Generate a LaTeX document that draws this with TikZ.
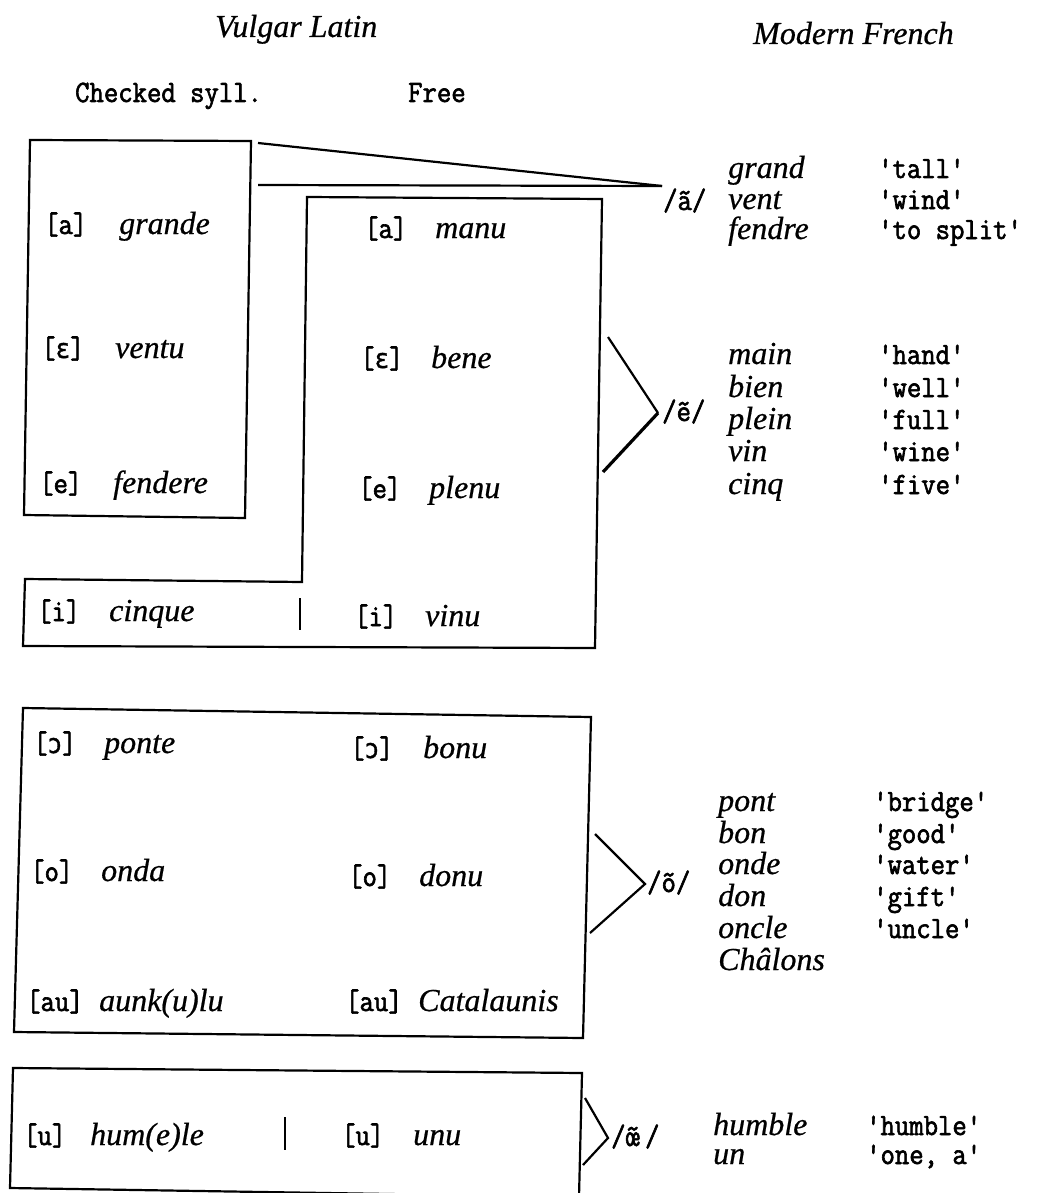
\documentclass[tikz,border=0pt]{standalone}
\usepackage{fontspec}
% typewriter face for phonetic brackets and glosses
\newfontfamily\twfont{Latin Modern Mono}[FakeBold=2, FakeStretch=0.9]
% italic face for the cited word forms and headings
\newfontfamily\scfont{Liberation Serif}[FakeBold=0.6]
% fallback for IPA letters missing from the typewriter face
\newfontfamily\ipafont{DejaVu Sans Mono}[FakeBold=1.2, FakeStretch=0.9]
\newcommand{\opene}{{\ipafont\fontsize{27}{30}\selectfont ɛ}}
\newcommand{\openo}{{\ipafont\fontsize{27}{30}\selectfont ɔ}}
\newcommand{\nasal}[1]{{\accent"02DC #1}}

\tikzset{
  tw/.style={font=\twfont\fontsize{31}{34}\selectfont, anchor=base west, inner sep=0pt},
  sc/.style={font=\scfont\itshape\fontsize{32}{36}\selectfont, anchor=base west, inner sep=0pt},
  frame/.style={line width=2.2pt, line join=miter},
  wedge/.style={line width=2.2pt},
  bar/.style={line width=2pt},
}

\begin{document}
\begin{tikzpicture}[x=1pt, y=-1pt]
\useasboundingbox[fill=white] (0,0) rectangle (1041,1193);

% ---- headings
\node[sc] (vl)  at (215,37)  {Vulgar Latin};
\node[sc] (mf)  at (753,44)  {Modern French};
\node[tw] (chk) at (75,102)  {Checked syll.};
\node[tw] (fre) at (408,102) {Free};

% ---- front vowels: checked syllables
\draw[frame] (30,140) -- (251,141) -- (245,518) -- (24,515) -- cycle;
\node[tw] (ca)  at (44,234)  {[a]};
\node[sc] (cax) at (119,234) {grande};
\node[tw] (ce)  at (41,358)  {[\opene]};
\node[sc] (cex) at (115,358) {ventu};
\node[tw] (cc)  at (39,493)  {[e]};
\node[sc] (ccx) at (113,493) {fendere};
\node[tw] (ci)  at (37,621)  {[i]};
\node[sc] (cix) at (109,621) {cinque};

% ---- front vowels: free syllables, with the [i] row underneath
\draw[frame] (307,197) -- (602,199) -- (595,648) -- (23,646) -- (25,579) -- (302,582) -- cycle;
\draw[bar] (300,598) -- (300,630);
\node[tw] (fa)  at (364,238) {[a]};
\node[sc] (fax) at (435,238) {manu};
\node[tw] (fe)  at (360,368) {[\opene]};
\node[sc] (fex) at (431,368) {bene};
\node[tw] (fc)  at (358,498) {[e]};
\node[sc] (fcx) at (429,498) {plenu};
\node[tw] (fi)  at (354,626) {[i]};
\node[sc] (fix) at (425,626) {vinu};

% ---- merger into /ã/
\coordinate (aTop) at (258,143);
\coordinate (aMid) at (258,185);
\coordinate (aPt)  at (662,186);
\draw[wedge] (aTop) -- (aPt);
\draw[wedge] (aMid) -- (aPt);
\node[tw] (aN) at (663,210) {/ã/};
\node[sc] (r1) at (728,178) {grand};
\node[sc] (r2) at (728,209) {vent};
\node[sc] (r3) at (728,239) {fendre};
\node[tw] (g1) at (878,178) {'tall'};
\node[tw] (g2) at (878,209) {'wind'};
\node[tw] (g3) at (878,239) {'to split'};

% ---- merger into /ẽ/
\coordinate (eTop) at (608,337);
\coordinate (ePt)  at (658,413);
\coordinate (eBot) at (603,472);
\draw[wedge] (eTop) -- (ePt);
\draw[line width=3.2pt] (ePt) -- (eBot);
\node[tw] (eN) at (662,421) {/\nasal{e}/};
\node[sc] (r4) at (728,364) {main};
\node[sc] (r5) at (728,397) {bien};
\node[sc] (r6) at (728,429) {plein};
\node[sc] (r7) at (728,461) {vin};
\node[sc] (r8) at (728,494) {cinq};
\node[tw] (g4) at (878,364) {'hand'};
\node[tw] (g5) at (878,397) {'well'};
\node[tw] (g6) at (878,429) {'full'};
\node[tw] (g7) at (878,461) {'wine'};
\node[tw] (g8) at (878,494) {'five'};

% ---- back vowels
\draw[frame] (23,708) -- (591,717) -- (583,1038) -- (14,1032) -- cycle;
\node[tw] (oa)  at (33,753)   {[\openo]};
\node[sc] (oax) at (104,753)  {ponte};
\node[tw] (ob)  at (30,881)   {[o]};
\node[sc] (obx) at (101,881)  {onda};
\node[tw] (oc)  at (26,1011)  {[au]};
\node[sc] (ocx) at (99,1011)  {aunk(u)lu};
\node[tw] (pa)  at (350,758)  {[\openo]};
\node[sc] (pax) at (423,758)  {bonu};
\node[tw] (pb)  at (348,886)  {[o]};
\node[sc] (pbx) at (419,886)  {donu};
\node[tw] (pc)  at (345,1011) {[au]};
\node[sc] (pcx) at (418,1011) {Catalaunis};

% ---- merger into /õ/
\coordinate (oTop) at (595,834);
\coordinate (oPt)  at (645,884);
\coordinate (oBot) at (590,933);
\draw[wedge] (oTop) -- (oPt) -- (oBot);
\node[tw] (oN) at (647,892) {/õ/};
\node[sc] (s1) at (718,811) {pont};
\node[sc] (s2) at (718,843) {bon};
\node[sc] (s3) at (718,874) {onde};
\node[sc] (s4) at (718,906) {don};
\node[sc] (s5) at (718,938) {oncle};
\node[sc] (s6) at (718,970) {Châlons};
\node[tw] (h1) at (873,811) {'bridge'};
\node[tw] (h2) at (873,843) {'good'};
\node[tw] (h3) at (873,874) {'water'};
\node[tw] (h4) at (873,906) {'gift'};
\node[tw] (h5) at (873,938) {'uncle'};

% ---- high back rounded vowel
\draw[frame] (13,1068) -- (582,1073) -- (579,1197) -- (10,1188) -- cycle;
\draw[bar] (285,1117) -- (285,1150);
\node[tw] (ua)  at (23,1145)  {[u]};
\node[sc] (uax) at (90,1145)  {hum(e)le};
\node[tw] (ub)  at (341,1145) {[u]};
\node[sc] (ubx) at (413,1145) {unu};

% ---- merger into /œ̃/
\coordinate (uTop) at (585,1098);
\coordinate (uPt)  at (608,1138);
\coordinate (uBot) at (583,1165);
\draw[wedge] (uTop) -- (uPt) -- (uBot);
\node[tw] (uN) at (611,1146) {/\nasal{\oe}\,/};
\node[sc] (t1) at (713,1135) {humble};
\node[sc] (t2) at (713,1164) {un};
\node[tw] (k1) at (866,1135) {'humble'};
\node[tw] (k2) at (866,1164) {'one, a'};
\end{tikzpicture}
\end{document}
